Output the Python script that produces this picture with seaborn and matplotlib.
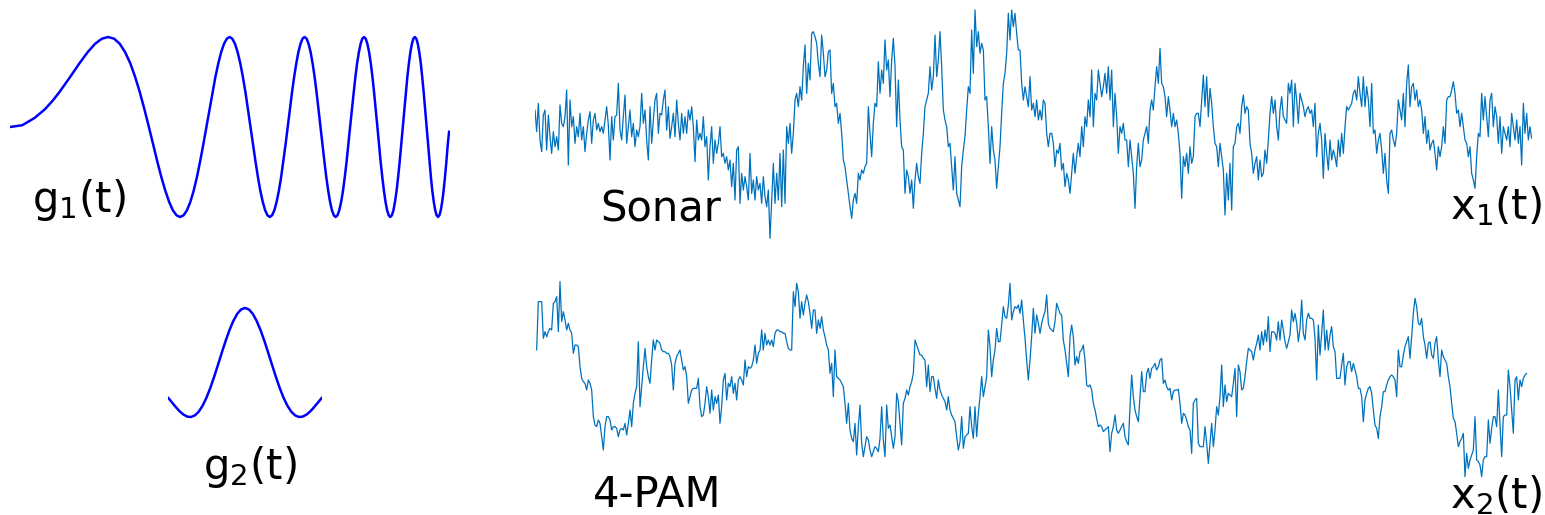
import numpy as np
import matplotlib
matplotlib.use('Agg')
import matplotlib.pyplot as plt
import seaborn as sns

#%% Data
# g1(t): chirp pulse, time in samples, amplitude normalised to 1
g1_time = [0, 12.3, 24.5, 34.71, 42.5,
           49.1, 60.13, 69.4, 77.63, 85.0, 91.85, 98.2, 104.15, 109.8, 115.14, 120.3, 125.17,
           129.9, 134.45, 138.9, 143.14, 147.3, 151.32, 155.3, 159.09, 162.8, 166.49, 170.1,
           173.58, 177.0, 180.39, 183.7, 186.95, 190.1, 193.29, 196.4, 199.43, 202.4, 205.38,
           208.3, 211.17, 214.0, 216.8, 219.6, 222.29, 225.0, 227.64, 230.3, 232.88, 235.5,
           238.0, 240.5, 243.01, 245.5, 247.92, 250.3, 252.73, 255.1, 257.45, 259.8, 262.09,
           264.4, 266.65, 268.9, 271.14, 273.3, 275.55, 277.7, 279.89, 282.0, 284.16, 286.3,
           288.37, 290.5, 292.52, 294.6, 296.61, 298.6, 300.64, 302.6, 304.63, 306.6, 308.56,
           310.5, 312.44, 314.4, 316.27, 318.2, 320.06, 321.9, 323.81, 325.6, 327.5, 329.3,
           331.17, 333.0, 334.79, 336.6, 338.37, 340.1, 341.91, 343.7, 345.41, 347.1, 348.88,
           350.6, 352.33, 354.0, 355.73, 357.4, 359.1, 360.8, 362.44, 364.1, 365.75, 367.4,
           369.03, 370.6, 372.28, 373.9, 375.5, 377.1, 378.7, 380.3, 381.87, 383.5, 385.01,
           386.6, 388.13, 389.7, 391.22, 392.8, 394.29, 395.8, 397.34, 398.9, 400.36, 401.9,
           403.35, 404.8, 406.33, 407.8, 409.29, 410.8, 412.22, 413.7, 415.14, 416.6, 418.03,
           419.5, 420.9, 422.3, 423.76, 425.2, 426.59, 428.0, 429.41, 430.8, 432.2, 433.6,
           434.98, 436.4, 437.75, 439.1]
g1_vals = [0, 0.02, 0.10, 0.195, 0.29,
           0.383, 0.556, 0.707, 0.831, 0.924, 0.981, 1, 0.981, 0.924, 0.831, 0.707, 0.556, 0.383, 0.195,
           0, -0.195, -0.383, -0.556, -0.707, -0.831, -0.924, -0.981, -1, -0.981, -0.924, -0.831, -0.707, -0.556, -0.383, -0.195,
           0, 0.195, 0.383, 0.556, 0.707, 0.831, 0.924, 0.981, 1, 0.981, 0.924, 0.831, 0.707, 0.556, 0.383, 0.195,
           0, -0.195, -0.383, -0.556, -0.707, -0.831, -0.924, -0.981, -1, -0.981, -0.924, -0.831, -0.707, -0.556, -0.383, -0.195,
           0, 0.195, 0.383, 0.556, 0.707, 0.831, 0.924, 0.981, 1, 0.981, 0.924, 0.831, 0.707, 0.556, 0.383, 0.195,
           0, -0.195, -0.383, -0.556, -0.707, -0.831, -0.924, -0.981, -1, -0.981, -0.924, -0.831, -0.707, -0.556, -0.383, -0.195,
           0, 0.195, 0.383, 0.556, 0.707, 0.831, 0.924, 0.981, 1, 0.981, 0.924, 0.831, 0.707, 0.556, 0.383, 0.195,
           0, -0.195, -0.383, -0.556, -0.707, -0.831, -0.924, -0.981, -1, -0.981, -0.924, -0.831, -0.707, -0.556, -0.383, -0.195,
           0, 0.195, 0.383, 0.556, 0.707, 0.831, 0.924, 0.981, 1, 0.981, 0.924, 0.831, 0.707, 0.556, 0.383, 0.195,
           0, -0.195, -0.383, -0.556, -0.707, -0.831, -0.924, -0.981, -1, -0.981, -0.924, -0.831, -0.707, -0.556, -0.383, -0.195,
           -0.05]

# g2(t): sinc pulse
g2_time = [-2.0, -1.9, -1.8, -1.7, -1.6, -1.5, -1.4, -1.3, -1.2, -1.1, -1.0, -0.9, -0.8, -0.7,
           -0.6, -0.5, -0.4, -0.3, -0.2, -0.1, 0.0, 0.1, 0.2, 0.3, 0.4, 0.5, 0.6, 0.7, 0.8, 0.9,
           1.0, 1.1, 1.2, 1.3, 1.4, 1.5, 1.6, 1.7, 1.8, 1.9, 2.0]
g2_vals = [0, -0.052, -0.104, -0.152, -0.189, -0.212, -0.216, -0.198, -0.156, -0.089, 0,
           0.109, 0.234, 0.368, 0.505, 0.637, 0.757, 0.858, 0.936, 0.984, 1.0,
           0.984, 0.936, 0.858, 0.757, 0.637, 0.505, 0.368, 0.234, 0.109, 0,
           -0.089, -0.156, -0.198, -0.216, -0.212, -0.189, -0.152, -0.104, -0.052, 0]

# x1(t): sonar signal (arbitrary units)
x1_vals = [
    50, -15, 70, -40, -75, 35, 50, -70, 35, -30,
    -80, -15, -60, -30, -70, 65, 10, 0, 30, 110,
    -115, 80, 0, 30, -50, 0, -30, 40, -40, 0,
    -75, -20, 20, 45, -50, 20, 40, -10, 10, -15,
    0, -20, 20, 60, 5, -100, 30, -40, 30, 35,
    130, -10, -40, 30, 95, -50, 0, 50, -30, 10,
    -60, -10, -30, 0, 100, 10, 50, -40, -100, 60,
    -50, 20, 80, 100, -20, 40, 35, 80, 110, -10,
    60, -35, 0, 40, -30, 80, 10, -40, 40, -20,
    30, -20, 50, 20, 60, 0, -105, 20, -40, -20,
    -40, 30, -60, -30, -160, -60, 0, -110, -40, -80,
    -50, 0, -90, -80, -110, -90, -130, -100, -180, -110,
    -220, -70, -60, -230, -140, -190, -150, -180, -220, -80,
    -200, -160, -220, -150, -190, -170, -230, -150, -210, -240,
    -190, -335, -220, -110, -230, -140, -220, -80, -240, -70,
    -230, 0, -50, 10, -80, -20, 80, 100, 60, 120,
    80, 180, 245, 100, 190, 140, 280, 285, 270, 250,
    190, 150, 275, 220, 150, 170, 225, 230, 100, 130,
    60, 70, 10, 40, -20, -100, -120, -160, -200, -240,
    -275, -220, -200, -230, -140, -160, -130, -140, -120, -110,
    60, -20, -90, 10, 70, 60, 195, 100, 170, 130,
    260, 170, 200, 90, 200, 265, 180, 0, 140, 20,
    -60, -70, -200, -130, -150, -200, -160, -245, -160, -110,
    -150, -170, -80, -20, 60, 80, 100, 180, 110, 150,
    275, 150, 200, 285, 180, 50, 20, 0, -60, -50,
    -120, -190, -90, -200, -220, -240, -120, -70, -30, 50,
    120, 100, 290, 160, 350, 240, 285, 220, 250, 230,
    80, 90, 0, -110, 0, -70, -100, -185, -120, -60,
    40, 130, 160, 220, 340, 260, 350, 300, 340, 280,
    230, 230, 130, 80, 120, 90, 60, 150, 50, 70,
    30, 80, 20, 50, 20, 80, 70, -20, -60, -20,
    -20, -50, -120, -70, -80, -50, -130, -110, -180, -140,
    -160, -200, -140, -80, -140, -90, -50, -90, 0, -60,
    30, 0, 80, 30, 170, 0, 100, 80, 170, 130,
    90, 120, 160, 100, 180, 80, 170, 0, 100, 30,
    -80, 0, -20, 10, -40, -40, -120, -40, -90, -140,
    -245, -120, -50, -120, -100, -40, -20, 0, -50, 50,
    80, 50, 120, 180, 130, 235, 130, 120, 90, 30,
    90, 50, 0, 40, 0, 20, -20, -80, -215, -90,
    -120, -80, -140, -60, -110, -90, 30, 40, 40,
    0, 80, 155, 60, 150, 30, 115, 70, 0, -50,
    -60, -120, -50, -90, -130, -265, -140, -220, -110, -250,
    -60, -50, 0, 10, -20, 60, 95, 40, 60, 50,
    -50, -80, -140, -110, -90, -160, -100, -150, -140, -70,
    -110, -40, 40, 90, 40, 80, 0, -40, 50, 90,
    30, 20, 10, 130, 100, 140, 0, 130, 80, 10,
    100, 80, 60, 30, 50, 60, 40, 50, 0, 70,
    -90, -20, 10, -40, -155, -20, -80, -130, -40, -100,
    -70, -90, -120, -40, -90, -20, -80, 0, 60, 50,
    60, 70, 100, 110, 80, 150, 100, 60, 150, 60,
    120, 80, 0, 130, -20, -10, -80, -40, -20, -70,
    -140, -80, -160, -200, -20, -10, -40, -60, -20, 80,
    50, 20, 100, 0, 130, 185, 60, 120, 130, 80,
    110, 60, 80, 50, -20, 30, -50, -10, -70, -50,
    -40, -80, -130, -60, -90, -60, 0, -50, 80, 90,
    90, 110, 135, 100, 40, 50, 0, 40, 0, -40,
    -50, -90, -60, -140, -160, -185, -90, -20, -30, 100,
    20, 90, 30, -30, 80, 100, 0, 60, 30, -50,
    30, -80, 0, -20, -40, 0, -60, 40, 0, -40,
    20, -50, 0, -115, 70, -20, 40, -40, 0, -35]

# x2(t): 4-PAM signal (arbitrary units)
x2_vals = [
    60, 205, 205, 205, 95, 115, 100, 115, 125, 120,
    200, 205, 220, 115, 265, 145, 175, 150, 120, 140,
    120, 110, 50, 75, 75, 70, 10, -25, -35, -40,
    -60, -30, -40, -60, -140, -165, -170, -150, -160, -200,
    -240, -170, -140, -140, -150, -180, -170, -170, -175, -200,
    -180, -175, -180, -160, -195, -160, -120, -170, -100, -70,
    -50, 85, -110, -50, 10, 65, 10, -20, -40, 30,
    90, 60, 90, 85, 80, 60, 55, 55, 50, 50,
    40, 15, -60, 20, 40, 50, 60, 30, 0, 10,
    -20, -100, -80, -60, -55, -55, -55, -25, -110, -140,
    -135, -100, -50, -80, -130, -60, -120, -80, -100, -75,
    -160, -110, -30, -10, -90, -40, -50, -20, -70, -40,
    -90, -30, -20, -30, -45, 30, -20, 10, 5, 10,
    30, 75, 20, 50, 60, 120, 60, 110, 75, 90,
    75, 90, 70, 110, 120, 120, 115, 115, 110, 110,
    85, 65, 60, 60, 235, 190, 260, 235, 155, 205,
    165, 200, 225, 205, 170, 125, 180, 180, 110, 150,
    125, 160, 120, 100, 75, 60, -10, 20, -80, 60,
    -20, -25, -30, -40, -50, -100, -160, -100, -180, -205,
    -215, -160, -255, -170, -105, -220, -260, -230, -200,
    -210, -240, -260, -245, -230, -235, -245, -205, -110, -210,
    -260, -105, -175, -165, -200, -235, -200, -70, -95, -160,
    -225, -100, -85, -60, -75, -50, -35, -10, 90, 75,
    60, 45, 45, 35, 30, -50, 15, -65, -20, -20,
    -55, -85, -30, -60, -75, -85, -95, -120, -80, -120,
    -135, -145, -155, -200, -240, -215, -140, -235, -200, -195,
    -190, -110, -170, -205, -110, -200, -130, -80, -20, -80,
    -50, -20, 120, 70, -20, 30, 60, 125, 85, 85,
    135, 190, 160, 155, 195, 260, 150, 175, 190, 185,
    195, 170, 210, 150, 95, 30, -30, 30, 100, 185,
    110, 165, 140, 110, 140, 160, 175, 225, 140, 125,
    120, 115, 145, 200, 185, 170, 165, 90, 60, 20,
    -20, 100, 135, 100, 15, 40, 20, 55, 60, 75,
    30, -45, -50, -45, -60, -100, -120, -145, -170, -165,
    -170, -185, -180, -175, -170, -245, -190, -170, -135, -180,
    -190, -180, -170, -160, -200, -215, -225, -110, -15, -80,
    -120, -140, -155, -80, -5, -65, -65, -10, 5, -25,
    5, 10, 20, 0, 10, 30, 35, -40, -30, -50,
    -60, -55, -90, -65, -60, -60, -58, -100, -160, -130,
    -135, -150, -170, -180, -250, -100, -90, -85, -220,
    -230, -230, -230, -170, -220, -280, -220, -160, -230, -180,
    -110, -135, -80, 15, -110, -45, -95, -70, -75, -80,
    -40, 5, -140, 15, -5, -60, -55, -20, 25, 65,
    60, 55, 30, 60, 80, 105, 60, 115, 75, 120,
    85, 160, 55, 115, 115, 110, 90, 145, 90, 150,
    120, 85, 65, 85, 105, 180, 145, 170, 140, 85,
    125, 210, 110, 90, 150, 170, 155, 155, 150, 95,
    -30, 135, 45, 110, 180, 60, 120, 60, 105, 130,
    70, 55, -25, -25, -25, 15, 50, -45, 10, 25,
    25, -5, 20, 0, -20, -55, -55, -80, -155, -90,
    -70, -55, -50, -70, -120, -165, -175, -205, -140, -110,
    -65, -65, -45, -30, -20, -15, -20, -30, -80, 60,
    10, 10, 45, 70, 85, 100, 35, 100, 170, 215,
    190, 140, 135, 155, 100, 75, 35, 80, 85, 45,
    35, 80, 100, 30, -20, 60, 40, 30, 20, -20,
    -50, -100, -145, -155, -190, -230, -215, -205, -190, -320,
    -250, -295, -270, -255, -240, -140, -270, -275, -285, -320,
    -270, -260, -260, -150, -220, -175, -140, -140, -170, -60,
    -165, -260, -140, -135, -135, 0, -50, -120, -190, -30,
    -20, -90, -30, -50, -25, -15, -10]

x1_time = np.arange(len(x1_vals))
x2_time = np.arange(1, len(x2_vals) + 1)

#%% Plot
sns.set_style('white')
plt.rcParams['font.family'] = ['DejaVu Sans']
plt.rcParams['mathtext.fontset'] = 'dejavusans'

W, H = 1545, 515
fig = plt.figure(figsize=(W / 100, H / 100), dpi=100)

def panel(left, top, right, bottom):
    # axes placed by pixel box on the canvas
    ax = fig.add_axes([left / W, 1 - bottom / H, (right - left) / W, (bottom - top) / H])
    ax.axis('off')
    return ax

PULSE = '#0000ff'
SIG = '#0072bd'

ax1 = panel(10, 28, 450, 226)
sns.lineplot(x=g1_time, y=g1_vals, ax=ax1, color=PULSE, linewidth=1.8, sort=False)
ax1.set_xlim(0, 440)
ax1.set_ylim(-1.1, 1.1)

ax2 = panel(168, 299, 322, 424.5)
sns.lineplot(x=g2_time, y=g2_vals, ax=ax2, color=PULSE, linewidth=1.8, sort=False)
ax2.set_xlim(-2, 2)
ax2.set_ylim(-0.3, 1.1)

ax3 = panel(535, 6.67, 1531.67, 240)
sns.lineplot(x=x1_time, y=x1_vals, ax=ax3, color=SIG, linewidth=0.9, sort=False)
ax3.set_xlim(0, 598)
ax3.set_ylim(-340, 360)

ax4 = panel(535, 276.67, 1531.67, 483.33)
sns.lineplot(x=x2_time, y=x2_vals, ax=ax4, color=SIG, linewidth=0.9, sort=False)
ax4.set_xlim(0, 598)
ax4.set_ylim(-340, 280)

def label(x, y, s, ha='left'):
    fig.text(x / W, 1 - y / H, s, fontsize=30, ha=ha, va='baseline', color='black')

label(32, 212, 'g$_1$(t)')
label(203, 479, 'g$_2$(t)')
label(600, 222, 'Sonar')
label(593, 507, '4-PAM')
label(1542, 219, 'x$_1$(t)', ha='right')
label(1542, 508, 'x$_2$(t)', ha='right')

fig.savefig('out.png', dpi=100, facecolor='white')
